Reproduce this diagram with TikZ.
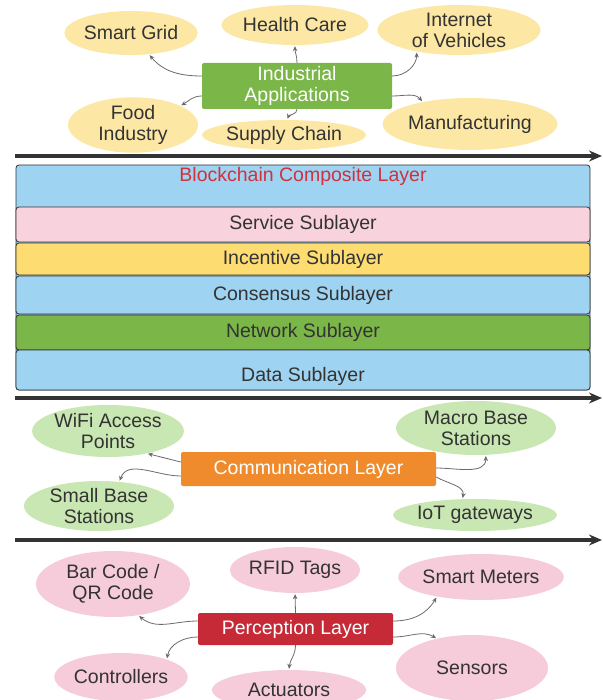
\documentclass[tikz,border=0pt]{standalone}
\usepackage{xcolor}
\usepackage{tikz}
\usepackage{fontspec}
\setmainfont{Liberation Sans}
\usetikzlibrary{shapes.geometric,arrows.meta}

\definecolor{appyellow}{HTML}{FCE7A4}
\definecolor{appgreen}{HTML}{7AB648}
\definecolor{laneblue}{HTML}{9FD3F2}
\definecolor{lanepink}{HTML}{F8D3DE}
\definecolor{laneyellow}{HTML}{FDDC72}
\definecolor{titlered}{HTML}{D1313D}
\definecolor{commorange}{HTML}{EF8B2C}
\definecolor{commgreen}{HTML}{C8E7B3}
\definecolor{percpink}{HTML}{F6CCDA}
\definecolor{percred}{HTML}{C62A37}
\definecolor{textgray}{HTML}{333333}
\definecolor{linkgray}{HTML}{6A6A6A}

\begin{document}
\begin{tikzpicture}[x = 1pt, y = 1pt]
        \tikzstyle{every node} = [font = \fontsize{19.5}{21}\selectfont, align = center, text = textgray, inner sep = 0pt]
        \tikzstyle{leaf} = [ellipse, fill = appyellow]
        \tikzstyle{hub} = [rectangle, rounded corners = 2pt, text = white]
        \tikzstyle{sublayer} = [rectangle, rounded corners = 3pt, draw = textgray, line width = 0.8pt, minimum width = 574]
        \tikzstyle{link} = [draw = linkgray, line width = 0.8pt, -{Stealth[length = 5pt, width = 4.5pt]}, shorten > = 1pt]
        \tikzstyle{timeline} = [draw = textgray, line width = 3.2pt, -{Stealth[length = 13pt, width = 11pt]}]
        \useasboundingbox (0, 0) rectangle (602, -700);

        \node(Industrial)[hub, fill = appgreen, minimum width = 190, minimum height = 46] at (297, -86) {Industrial\\Applications};
        \node(Smart Grid)[leaf, minimum width = 128, minimum height = 44] at (131, -33) {Smart Grid};
        \node(Health Care)[leaf, minimum width = 126, minimum height = 40] at (295, -25) {Health Care};
        \node(Vehicles)[leaf, minimum width = 163, minimum height = 50] at (459, -30) {Internet\\of Vehicles};
        \node(Food)[leaf, minimum width = 130, minimum height = 50] at (133, -125) {Food\\Industry};
        \node(Supply Chain)[leaf, minimum width = 148, minimum height = 30] at (284, -135) {Supply Chain};
        \node(Manufacturing)[leaf, minimum width = 150, minimum height = 52] at (470, -124) {Manufacturing};
        \draw [link] ([yshift = 10pt]Industrial.west) to[out = 180, in = -50] (Smart Grid.-50);
        \draw [link] (Industrial.north) to[out = 90, in = -90] (Health Care.south);
        \draw [link] ([yshift = 10pt]Industrial.east) to[out = 0, in = -90] (Vehicles.-153);
        \draw [link] ([yshift = -10pt]Industrial.west) to[out = 180, in = 30] (Food.22);
        \draw [link] (Industrial.south) to[out = -90, in = 70] (Supply Chain.78);
        \draw [link] ([yshift = -10pt]Industrial.east) to[out = 0, in = 130] (Manufacturing.155);

        \coordinate(Line1 start) at (15, -156);
        \coordinate(Line1 end) at (602, -156);
        \draw [timeline] (Line1 start) -- (Line1 end);

        \node(Blockchain)[sublayer, fill = laneblue, minimum height = 225] at (303, -277.5) {};
        \node(Blockchain title)[text = titlered] at (303, -176) {Blockchain Composite Layer};
        \node(Service)[sublayer, fill = lanepink, minimum height = 35] at (303, -224.5) {Service Sublayer};
        \node(Incentive)[sublayer, fill = laneyellow, minimum height = 32] at (303, -259) {Incentive Sublayer};
        \node(Consensus)[sublayer, fill = laneblue, minimum height = 38] at (303, -295) {Consensus Sublayer};
        \node(Network)[sublayer, fill = appgreen, minimum height = 35] at (303, -332.5) {Network Sublayer};
        \node(Data)[sublayer, fill = laneblue, minimum height = 40, text height = 28pt] at (303, -370) {Data Sublayer};

        \coordinate(Line2 start) at (15, -398);
        \coordinate(Line2 end) at (602, -398);
        \draw [timeline] (Line2 start) -- (Line2 end);

        \node(Communication)[hub, fill = commorange, minimum width = 255, minimum height = 34] at (308.5, -469) {Communication Layer};
        \node(WiFi)[leaf, fill = commgreen, minimum width = 144, minimum height = 52] at (108, -431) {WiFi Access\\Points};
        \node(Macro)[leaf, fill = commgreen, minimum width = 160, minimum height = 54] at (476, -428) {Macro Base\\Stations};
        \node(Small)[leaf, fill = commgreen, minimum width = 150, minimum height = 50] at (99, -506) {Small Base\\Stations};
        \node(IoT)[leaf, fill = commgreen, minimum width = 160, minimum height = 32] at (475, -515) {IoT gateways};
        \draw [link] ([yshift = 7pt]Communication.west) -- (WiFi.-30);
        \draw [link] ([yshift = -7pt]Communication.west) to[out = 180, in = 70] (Small.50);
        \draw [link] ([yshift = 1pt]Communication.east) to[out = 0, in = -90] (Macro.-70);
        \draw [link] ([yshift = -8pt]Communication.east) to[out = -30, in = 80] (IoT.128);

        \coordinate(Line3 start) at (15, -540);
        \coordinate(Line3 end) at (602, -540);
        \draw [timeline] (Line3 start) -- (Line3 end);

        \node(Perception)[hub, fill = percred, minimum width = 195, minimum height = 32] at (295.5, -629) {Perception Layer};
        \node(Bar Code)[leaf, fill = percpink, minimum width = 154, minimum height = 66] at (113, -584) {Bar Code /\\QR Code};
        \node(RFID)[leaf, fill = percpink, minimum width = 126, minimum height = 46] at (295, -570) {RFID Tags};
        \node(Meters)[leaf, fill = percpink, minimum width = 150, minimum height = 46] at (481, -577) {Smart Meters};
        \node(Controllers)[leaf, fill = percpink, minimum width = 130, minimum height = 48] at (121, -677) {Controllers};
        \node(Actuators)[leaf, fill = percpink, minimum width = 154, minimum height = 40] at (289, -690) {Actuators};
        \node(Sensors)[leaf, fill = percpink, minimum width = 152, minimum height = 66] at (472, -668) {Sensors};
        \draw [link] ([yshift = 8pt]Perception.west) to[out = 180, in = -40] (Bar Code.-51);
        \draw [link] (Perception.north) -- (RFID.south);
        \draw [link] ([yshift = 8pt]Perception.east) to[out = 0, in = -120] (Meters.-156);
        \draw [link] ([yshift = -8pt]Perception.west) to[out = 180, in = 80] (Controllers.21);
        \draw [link] (Perception.south) to[out = -90, in = 85] (Actuators.north);
        \draw [link] ([yshift = -8pt]Perception.east) to[out = 0, in = 150] (Sensors.140);

    \end{tikzpicture}
\end{document}
